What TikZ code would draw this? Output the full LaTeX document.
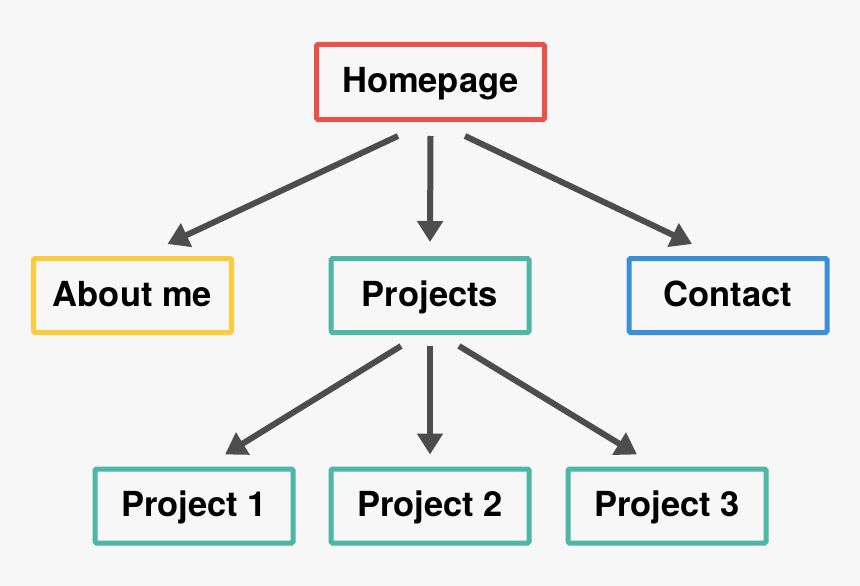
\documentclass[tikz,border=0pt]{standalone}
\usepackage{fontspec}
\setmainfont{TeX Gyre Heros}
\usetikzlibrary{arrows.meta}
\definecolor{bgc}{HTML}{F7F7F7}
\definecolor{redc}{HTML}{E8524A}
\definecolor{yellowc}{HTML}{FDCB3F}
\definecolor{tealc}{HTML}{4DB6A4}
\definecolor{bluec}{HTML}{3B8FD6}
\definecolor{arrowc}{HTML}{4D4D4D}
\begin{document}
\begin{tikzpicture}[x=1pt,y=-1pt,
  pagebox/.style={draw=#1, line width=5pt, rounded corners=1.5pt, fill=bgc,
    minimum height=74pt, inner sep=0pt, text height=25pt, text depth=4pt,
    font=\fontsize{34.5}{40}\selectfont\bfseries, text=black},
  link/.style={draw=arrowc, line width=6pt, -{Triangle[length=21pt,width=25pt]}}]
\fill[bgc] (0,0) rectangle (860,586);
\useasboundingbox (0,0) rectangle (860,586);
\node[pagebox=redc, minimum width=228pt, minimum height=75pt] (home) at (430.5,82) {Homepage};
\node[pagebox=yellowc, minimum width=198pt] (about) at (132.5,295.5) {About me};
\node[pagebox=tealc, minimum width=198pt] (proj) at (430,295.5) {Projects};
\node[pagebox=bluec, minimum width=198pt] (contact) at (728,295.5) {Contact};
\node[pagebox=tealc, minimum width=198pt] (p1) at (194,506) {Project 1};
\node[pagebox=tealc, minimum width=198pt] (p2) at (430,506) {Project 2};
\node[pagebox=tealc, minimum width=198pt] (p3) at (667,506) {Project 3};
\draw[link] ([xshift=-32.5pt,yshift=-14pt]home.south) -- ([xshift=35pt,yshift=12pt]about.north);
\draw[link] ([yshift=-14pt]home.south) -- ([yshift=14pt]proj.north);
\draw[link] ([xshift=34.5pt,yshift=-14pt]home.south) -- ([xshift=-36pt,yshift=12pt]contact.north);
\draw[link] ([xshift=-29pt,yshift=-11pt]proj.south) -- ([xshift=31pt,yshift=12pt]p1.north);
\draw[link] ([yshift=-11pt]proj.south) -- ([yshift=12pt]p2.north);
\draw[link] ([xshift=29pt,yshift=-11pt]proj.south) -- ([xshift=-30pt,yshift=12pt]p3.north);
\end{tikzpicture}
\end{document}
